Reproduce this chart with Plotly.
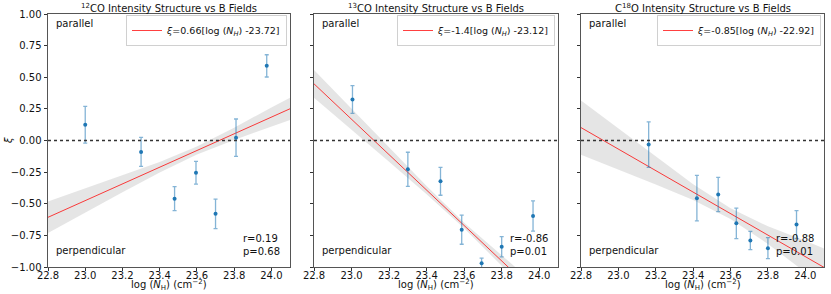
import plotly.graph_objects as go

# ---------------- data ----------------
titles = ["<sup>12</sup>CO Intensity Structure vs B Fields",
          "<sup>13</sup>CO Intensity Structure vs B Fields",
          "C<sup>18</sup>O Intensity Structure vs B Fields"]

x_12co = [23.00, 23.30, 23.48, 23.595, 23.70, 23.81, 23.975]
xi_12co = [0.125, -0.09, -0.46, -0.255, -0.58, 0.022, 0.59]
err_12co = [0.145, 0.115, 0.095, 0.09, 0.117, 0.148, 0.088]

x_13co = [23.005, 23.30, 23.474, 23.587, 23.693, 23.80, 23.967]
xi_13co = [0.324, -0.228, -0.323, -0.705, -0.97, -0.84, -0.597]
err_13co = [0.11, 0.135, 0.11, 0.115, 0.04, 0.08, 0.12]

x_c18o = [23.162, 23.42, 23.534, 23.631, 23.706, 23.80, 23.953]
xi_c18o = [-0.032, -0.456, -0.427, -0.655, -0.79, -0.851, -0.665]
err_c18o = [0.18, 0.18, 0.135, 0.12, 0.072, 0.083, 0.11]

fit_slope = [0.66, -1.4, -0.85]
fit_offset = [23.72, 23.12, 22.92]
fit_label = ["0.66", "-1.4", "-0.85"]
r_vals = ["0.19", "-0.86", "-0.88"]
p_vals = ["0.68", "0.01", "0.01"]

# confidence band half-widths read at these x positions
band_x = [22.8, 23.0, 23.2, 23.4, 23.6, 23.8, 24.0, 24.1]
band_12co = [0.124, 0.095, 0.065, 0.042, 0.032, 0.048, 0.076, 0.088]
band_13co = [0.11, 0.083, 0.056, 0.032, 0.022, 0.038, 0.064, 0.078]
band_c18o = [0.215, 0.162, 0.11, 0.062, 0.042, 0.07, 0.125, 0.15]

x_ticks = [22.8, 23.0, 23.2, 23.4, 23.6, 23.8, 24.0]
y_ticks = [-1.0, -0.75, -0.5, -0.25, 0.0, 0.25, 0.5, 0.75, 1.0]

xs_all = [x_12co, x_13co, x_c18o]
ys_all = [xi_12co, xi_13co, xi_c18o]
es_all = [err_12co, err_13co, err_c18o]
bands = [band_12co, band_13co, band_c18o]

# ---------------- layout geometry ----------------
W, H = 831, 294
px_dom = [(48, 290), (314, 558), (581, 824)]
y_dom = [1 - 267 / H, 1 - 14 / H]
FONT = "DejaVu Sans"
BLUE = "#1f77b4"

fig = go.Figure()
annotations = []
shapes = []
layout_axes = {}

for i in range(3):
    xa = "x" if i == 0 else f"x{i+1}"
    ya = "y" if i == 0 else f"y{i+1}"
    xkey = "xaxis" if i == 0 else f"xaxis{i+1}"
    ykey = "yaxis" if i == 0 else f"yaxis{i+1}"
    lg = "legend" if i == 0 else f"legend{i+1}"
    s, c = fit_slope[i], fit_offset[i]

    line_y = [s * (bx - c) for bx in band_x]
    upper = [ly + h for ly, h in zip(line_y, bands[i])]
    lower = [ly - h for ly, h in zip(line_y, bands[i])]

    fig.add_trace(go.Scatter(
        x=band_x + band_x[::-1], y=upper + lower[::-1],
        fill="toself", fillcolor="rgba(150,150,150,0.25)",
        line=dict(width=0), mode="lines", hoverinfo="skip",
        showlegend=False, xaxis=xa, yaxis=ya))

    fig.add_trace(go.Scatter(
        x=band_x, y=line_y, mode="lines",
        line=dict(color="rgba(255,0,0,0.75)", width=1),
        name=f"<i>ξ</i>={fit_label[i]}[log (<i>N<sub>H</sub></i>) -{fit_offset[i]:.2f}]",
        legend=lg, showlegend=True, xaxis=xa, yaxis=ya))

    fig.add_trace(go.Scatter(
        x=xs_all[i], y=ys_all[i], mode="markers",
        marker=dict(color=BLUE, size=4),
        error_y=dict(type="data", array=es_all[i], color="rgba(31,119,180,0.55)",
                     thickness=1.3, width=2),
        showlegend=False, xaxis=xa, yaxis=ya))

    x0 = px_dom[i][0] / W
    x1 = px_dom[i][1] / W
    layout_axes[xkey] = dict(
        domain=[x0, x1], range=[22.8, 24.1], anchor=ya, automargin=False,
        tickvals=x_ticks, ticktext=[f"{t:.1f}" for t in x_ticks],
        ticks="outside", ticklen=3, tickwidth=0.8, tickcolor="#333",
        ticklabelstandoff=-4,
        showline=True, linecolor="#555", linewidth=1, mirror=True,
        showgrid=False, zeroline=False,
        tickfont=dict(family=FONT, size=10, color="#111"))
    layout_axes[ykey] = dict(
        domain=y_dom, range=[-1.0, 1.0], anchor=xa, automargin=False,
        tickvals=y_ticks, ticktext=[f"{t:.2f}".replace("-", "−") for t in y_ticks],
        showticklabels=(i == 0),
        ticks="outside", ticklen=3.5, tickwidth=0.8, tickcolor="#333",
        showline=True, linecolor="#555", linewidth=1, mirror=True,
        showgrid=False, zeroline=False,
        tickfont=dict(family=FONT, size=10, color="#111"))

    layout_axes[lg] = dict(
        x=(px_dom[i][1] - 3) / W, y=1 - 15 / H, xref="paper", yref="paper",
        xanchor="right", yanchor="top", bgcolor="white",
        bordercolor="#d0d0d0", borderwidth=1,
        font=dict(family=FONT, size=9.5, color="#111"),
        itemwidth=30, tracegroupgap=0)

    # dotted zero line
    shapes.append(dict(type="line", xref=f"{xa} domain", yref=ya,
                       x0=0, x1=1, y0=0, y1=0,
                       line=dict(color="#333", width=1.6, dash="dot")))

    cx = (px_dom[i][0] + px_dom[i][1]) / 2 / W
    annotations.append(dict(text=titles[i], x=cx, y=1 - 8 / H, xref="paper", yref="paper",
                            showarrow=False, xanchor="center", yanchor="middle",
                            font=dict(family=FONT, size=10, color="#111")))
    annotations.append(dict(text="log (<i>N</i><sub>H</sub>) (cm<sup>−2</sup>)",
                            x=cx, y=0, xref="paper", yref="paper",
                            showarrow=False, xanchor="center", yanchor="bottom",
                            font=dict(family=FONT, size=10, color="#111")))
    annotations.append(dict(text="parallel", x=(px_dom[i][0] + 6) / W, y=1 - 24 / H,
                            xref="paper", yref="paper", showarrow=False,
                            xanchor="left", yanchor="middle",
                            font=dict(family=FONT, size=10, color="#111")))
    annotations.append(dict(text="perpendicular", x=(px_dom[i][0] + 6) / W, y=1 - 251 / H,
                            xref="paper", yref="paper", showarrow=False,
                            xanchor="left", yanchor="middle",
                            font=dict(family=FONT, size=10, color="#111")))
    annotations.append(dict(text=f"r={r_vals[i]}<br>p={p_vals[i]}",
                            x=(px_dom[i][1] - 8) / W, y=1 - 245 / H,
                            xref="paper", yref="paper", showarrow=False,
                            xanchor="right", yanchor="middle", align="left",
                            font=dict(family=FONT, size=10, color="#111")))

annotations.append(dict(text="<i>ξ</i>", x=8 / W, y=1 - 141 / H, xref="paper", yref="paper",
                        showarrow=False, textangle=-90, xanchor="center", yanchor="middle",
                        font=dict(family=FONT, size=10, color="#111")))

fig.update_layout(
    width=W, height=H, autosize=False,
    margin=dict(l=0, r=0, t=0, b=0, autoexpand=False),
    paper_bgcolor="white", plot_bgcolor="white",
    annotations=annotations, shapes=shapes,
    font=dict(family=FONT, size=10, color="#111"),
    **layout_axes)

fig.write_html("out.html", config={"displayModeBar": False},
               post_script="document.body.style.margin='0';document.body.style.overflow='hidden';")
